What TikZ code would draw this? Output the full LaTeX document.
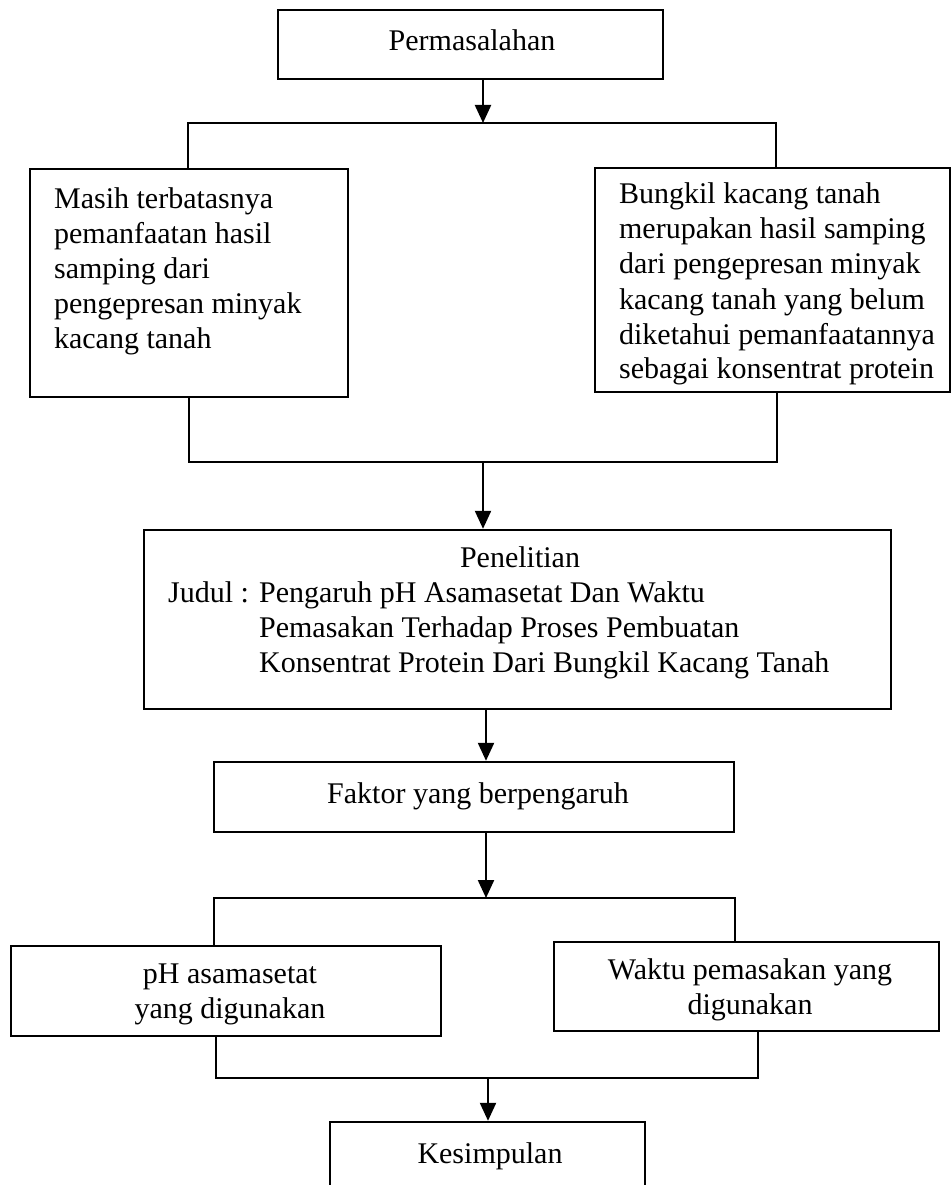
\documentclass[tikz,border=0pt]{standalone}
\usepackage{fontspec}
\setmainfont{Liberation Serif}
\usetikzlibrary{arrows.meta}
\newcommand{\lftblock}[1]{\parbox[t]{700pt}{\raggedright #1}}
\newcommand{\ctrblock}[1]{\parbox[t]{500pt}{\centering #1}}
\begin{document}
\begin{tikzpicture}[x=1pt,y=-1pt,
  line width=2.2pt,
  box/.style={draw,rectangle,inner sep=0pt,line width=2.4pt},
  txt/.style={inner sep=0pt,font=\fontsize{30}{35}\selectfont},
  arr/.style={-{Triangle[width=16pt,length=18pt]}}]
\useasboundingbox (0,0) rectangle (952,1185);
% boxes
\node[box,minimum width=385pt,minimum height=69pt] (perm) at (470.5,44.5) {};
\node[box,minimum width=318pt,minimum height=228pt] (left) at (189,283) {};
\node[box,minimum width=355pt,minimum height=224pt] (right) at (772.5,280) {};
\node[box,minimum width=747pt,minimum height=179pt] (pen) at (517.5,619.5) {};
\node[box,minimum width=520pt,minimum height=70pt] (fak) at (474,797) {};
\node[box,minimum width=430pt,minimum height=90pt] (ph) at (226,991) {};
\node[box,minimum width=385pt,minimum height=89pt] (wak) at (746.5,986.5) {};
\node[box,minimum width=315pt,minimum height=100pt] (kes) at (487.5,1172) {};
% texts
\node[txt,anchor=base] (tperm) at (472,51) {Permasalahan};
\node[txt,anchor=base west] (tleft) at (53,208) {\lftblock{Masih terbatasnya\\pemanfaatan hasil\\samping dari\\pengepresan minyak\\kacang tanah}};
\node[txt,anchor=base west] (tright) at (618,204) {\lftblock{Bungkil kacang tanah\\merupakan hasil samping\\dari pengepresan minyak\\kacang tanah yang belum\\diketahui pemanfaatannya\\sebagai konsentrat protein}};
\node[txt,anchor=base] (tpen) at (520,567) {Penelitian};
\node[txt,anchor=base west] (tjud) at (167,602) {Judul :};
\node[txt,anchor=base west] (tjudul) at (258,602) {\lftblock{Pengaruh pH Asamasetat Dan Waktu\\Pemasakan Terhadap Proses Pembuatan\\Konsentrat Protein Dari Bungkil Kacang Tanah}};
\node[txt,anchor=base] (tfak) at (478,803) {Faktor yang berpengaruh};
\node[txt,anchor=base] (tph) at (230,983) {\ctrblock{pH asamasetat\\yang digunakan}};
\node[txt,anchor=base] (twak) at (750,979) {\ctrblock{Waktu pemasakan yang\\digunakan}};
\node[txt,anchor=base] (tkes) at (490,1163) {Kesimpulan};
% connectors
\coordinate (a1) at (483,123);
\coordinate (h1L) at (188,123);
\coordinate (h1R) at (776,123);
\draw[arr] (a1 |- perm.south) -- (a1);
\draw (left.north -| h1L) -- (h1L) -- (h1R) -- (h1R |- right.north);
\coordinate (h2L) at (189,462);
\coordinate (h2R) at (777,462);
\coordinate (a2) at (483,462);
\draw (h2L |- left.south) -- (h2L) -- (h2R) -- (h2R |- right.south);
\draw[arr] (a2) -- (a2 |- pen.north);
\coordinate (a3) at (486,735);
\draw[arr] (a3 |- pen.south) -- (a3 |- fak.north);
\coordinate (h3L) at (214,898);
\coordinate (h3R) at (735,898);
\coordinate (a4) at (486,898);
\draw[arr] (a4 |- fak.south) -- (a4);
\draw (h3L |- ph.north) -- (h3L) -- (h3R) -- (h3R |- wak.north);
\coordinate (h4L) at (216,1078);
\coordinate (h4R) at (758,1078);
\coordinate (a5) at (488,1078);
\draw (h4L |- ph.south) -- (h4L) -- (h4R) -- (h4R |- wak.south);
\draw[arr] (a5) -- (a5 |- kes.north);
\end{tikzpicture}
\end{document}
